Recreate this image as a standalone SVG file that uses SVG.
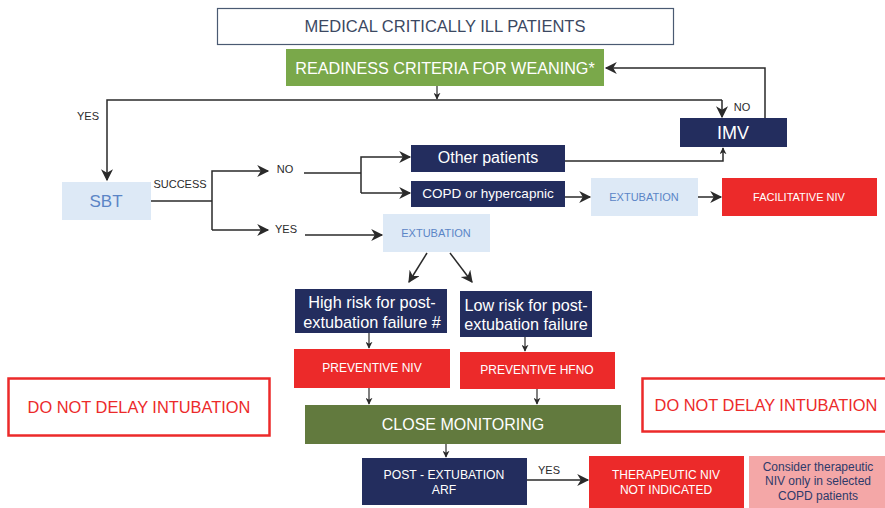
<svg xmlns="http://www.w3.org/2000/svg" width="885" height="508" viewBox="0 0 885 508">
  <style>
    text { font-family: "Liberation Sans", Arial, sans-serif; text-anchor: middle; dominant-baseline: central; }
    .navy { fill: #232d5e; }
    .red { fill: #ec2a2a; }
    .pale { fill: #dde9f6; }
    .w { fill: #ffffff; }
    .lbl { fill: #2a2a2a; font-size: 11px; }
    .ext { fill: #5b85c6; font-size: 11px; }
    .line { fill: none; stroke: #2a2a2a; stroke-width: 1.5; }
    .thin { fill: none; stroke: #2a2a2a; stroke-width: 1.2; }
    .warn { fill: #ffffff; stroke: #ec2a2a; stroke-width: 2.5; }
  </style>
  <defs>
    <marker id="arrow" viewBox="0 0 10 10" refX="9" refY="5" markerWidth="7" markerHeight="7" orient="auto" markerUnits="userSpaceOnUse">
      <path d="M0,0 L10,5 L0,10 L3,5 z" fill="#2a2a2a"/>
    </marker>
    <marker id="arrowL" viewBox="0 0 10 10" refX="9" refY="5" markerWidth="14" markerHeight="12" orient="auto" markerUnits="userSpaceOnUse">
      <path d="M0,0 L10,5 L0,10 L3,5 z" fill="#2a2a2a"/>
    </marker>
  </defs>

  <!-- connectors -->
  <g id="connectors">
    <!-- readiness down to branch line -->
    <path class="thin" d="M437,86 V99" marker-end="url(#arrow)"/>
    <path class="line" d="M722,100 H107 V180" marker-end="url(#arrowL)"/>
    <path class="line" d="M722,100 V117" marker-end="url(#arrowL)"/>
    <!-- IMV back to readiness -->
    <path class="line" d="M765,118 V68 H606" marker-end="url(#arrowL)"/>
    <!-- SBT outcome split -->
    <path class="line" d="M151,201 H212"/>
    <path class="line" d="M212,230 V171 H268" marker-end="url(#arrowL)"/>
    <path class="line" d="M212,230 H268" marker-end="url(#arrowL)"/>
    <!-- NO branch -->
    <path class="line" d="M304,173 H361"/>
    <path class="line" d="M361,193 V157 H410" marker-end="url(#arrowL)"/>
    <path class="line" d="M361,193 H410" marker-end="url(#arrowL)"/>
    <!-- other patients to IMV -->
    <path class="line" d="M565,161 H723 V148" marker-end="url(#arrow)"/>
    <!-- COPD path -->
    <path class="line" d="M565,197 H590" marker-end="url(#arrowL)"/>
    <path class="line" d="M698,197 H721" marker-end="url(#arrowL)"/>
    <!-- YES branch -->
    <path class="line" d="M305,235 H382" marker-end="url(#arrowL)"/>
    <!-- risk split -->
    <path class="line" d="M427,253 L409,282" marker-end="url(#arrowL)"/>
    <path class="line" d="M450,253 L472,282" marker-end="url(#arrowL)"/>
    <!-- risk to prevention -->
    <path class="thin" d="M369,333 V348" marker-end="url(#arrow)"/>
    <path class="thin" d="M525,337 V351" marker-end="url(#arrow)"/>
    <path class="thin" d="M369,388 V404" marker-end="url(#arrow)"/>
    <path class="thin" d="M537,389 V404" marker-end="url(#arrow)"/>
    <!-- monitoring to ARF -->
    <path class="thin" d="M446,444 V457" marker-end="url(#arrow)"/>
    <path class="line" d="M527,480 H588" marker-end="url(#arrowL)"/>
  </g>

  <!-- connector labels -->
  <g id="labels">
    <text class="lbl" x="88" y="116">YES</text>
    <text class="lbl" x="742" y="107">NO</text>
    <text class="lbl" x="180" y="184">SUCCESS</text>
    <text class="lbl" x="285" y="169">NO</text>
    <text class="lbl" x="286" y="229">YES</text>
    <text class="lbl" x="549" y="470">YES</text>
  </g>

  <g id="medical">
    <rect x="217.5" y="8.5" width="456" height="36" fill="#ffffff" stroke="#4a5a72" stroke-width="1.2"/>
    <text x="445" y="26" font-size="16.5" fill="#3b4862">MEDICAL CRITICALLY ILL PATIENTS</text>
  </g>

  <g id="readiness">
    <rect x="286" y="49" width="318" height="37" fill="#7aa84a"/>
    <text class="w" x="445" y="68" font-size="16.2">READINESS CRITERIA FOR WEANING*</text>
  </g>

  <g id="imv">
    <rect class="navy" x="680" y="118" width="107" height="29"/>
    <text class="w" x="733" y="133" font-size="18">IMV</text>
  </g>

  <g id="sbt">
    <rect class="pale" x="62" y="182" width="89" height="38"/>
    <text x="106" y="201" font-size="17" fill="#5b85c6">SBT</text>
  </g>

  <g id="other-patients">
    <rect class="navy" x="411" y="145" width="154" height="27"/>
    <text class="w" x="488" y="157" font-size="16">Other patients</text>
  </g>

  <g id="copd">
    <rect class="navy" x="411" y="181" width="154" height="26"/>
    <text class="w" x="488" y="193" font-size="13.5">COPD or hypercapnic</text>
  </g>

  <g id="extubation-copd">
    <rect class="pale" x="591" y="178" width="107" height="38"/>
    <text class="ext" x="644" y="197">EXTUBATION</text>
  </g>

  <g id="facilitative-niv">
    <rect class="red" x="722" y="178" width="155" height="38"/>
    <text class="w" x="799" y="197" font-size="11">FACILITATIVE NIV</text>
  </g>

  <g id="extubation">
    <rect class="pale" x="383" y="214" width="107" height="38"/>
    <text class="ext" x="436" y="233">EXTUBATION</text>
  </g>

  <g id="high-risk">
    <rect class="navy" x="295" y="289" width="152" height="44"/>
    <text class="w" x="372" y="302" font-size="16.3">High risk for post-</text>
    <text class="w" x="372" y="322" font-size="16.3">extubation failure #</text>
  </g>

  <g id="low-risk">
    <rect class="navy" x="460" y="291" width="132" height="46"/>
    <text class="w" x="526" y="305" font-size="16.2">Low risk for post-</text>
    <text class="w" x="526" y="324" font-size="16.2">extubation failure</text>
  </g>

  <g id="preventive-niv">
    <rect class="red" x="294" y="349" width="156" height="39"/>
    <text class="w" x="372" y="368" font-size="12">PREVENTIVE NIV</text>
  </g>

  <g id="preventive-hfno">
    <rect class="red" x="460" y="352" width="155" height="37"/>
    <text class="w" x="537" y="370" font-size="12">PREVENTIVE HFNO</text>
  </g>

  <g id="close-monitoring">
    <rect x="305" y="405" width="316" height="39" fill="#627a3e"/>
    <text class="w" x="463" y="424" font-size="16">CLOSE MONITORING</text>
  </g>

  <g id="post-extubation-arf">
    <rect class="navy" x="362" y="458" width="165" height="47"/>
    <text class="w" x="444" y="475" font-size="12.2">POST - EXTUBATION</text>
    <text class="w" x="444" y="490" font-size="12.2">ARF</text>
  </g>

  <g id="therapeutic-niv">
    <rect class="red" x="589" y="456" width="155" height="52"/>
    <text class="w" x="666" y="475" font-size="12">THERAPEUTIC NIV</text>
    <text class="w" x="666" y="490" font-size="12">NOT INDICATED</text>
  </g>

  <g id="consider-niv">
    <rect x="749" y="456" width="136" height="52" fill="#f4a7a7"/>
    <text x="818" y="467" font-size="12" fill="#2e3a6a">Consider therapeutic</text>
    <text x="818" y="481" font-size="12" fill="#2e3a6a">NIV only in selected</text>
    <text x="818" y="496" font-size="12" fill="#2e3a6a">COPD patients</text>
  </g>

  <g id="do-not-delay-left">
    <rect class="warn" x="8.5" y="378.5" width="261" height="57"/>
    <text x="139" y="407" font-size="16.4" fill="#ec2a2a">DO NOT DELAY INTUBATION</text>
  </g>

  <g id="do-not-delay-right">
    <rect class="warn" x="642.5" y="378.5" width="250" height="53"/>
    <text x="766" y="405" font-size="16.4" fill="#ec2a2a">DO NOT DELAY INTUBATION</text>
  </g>
</svg>
